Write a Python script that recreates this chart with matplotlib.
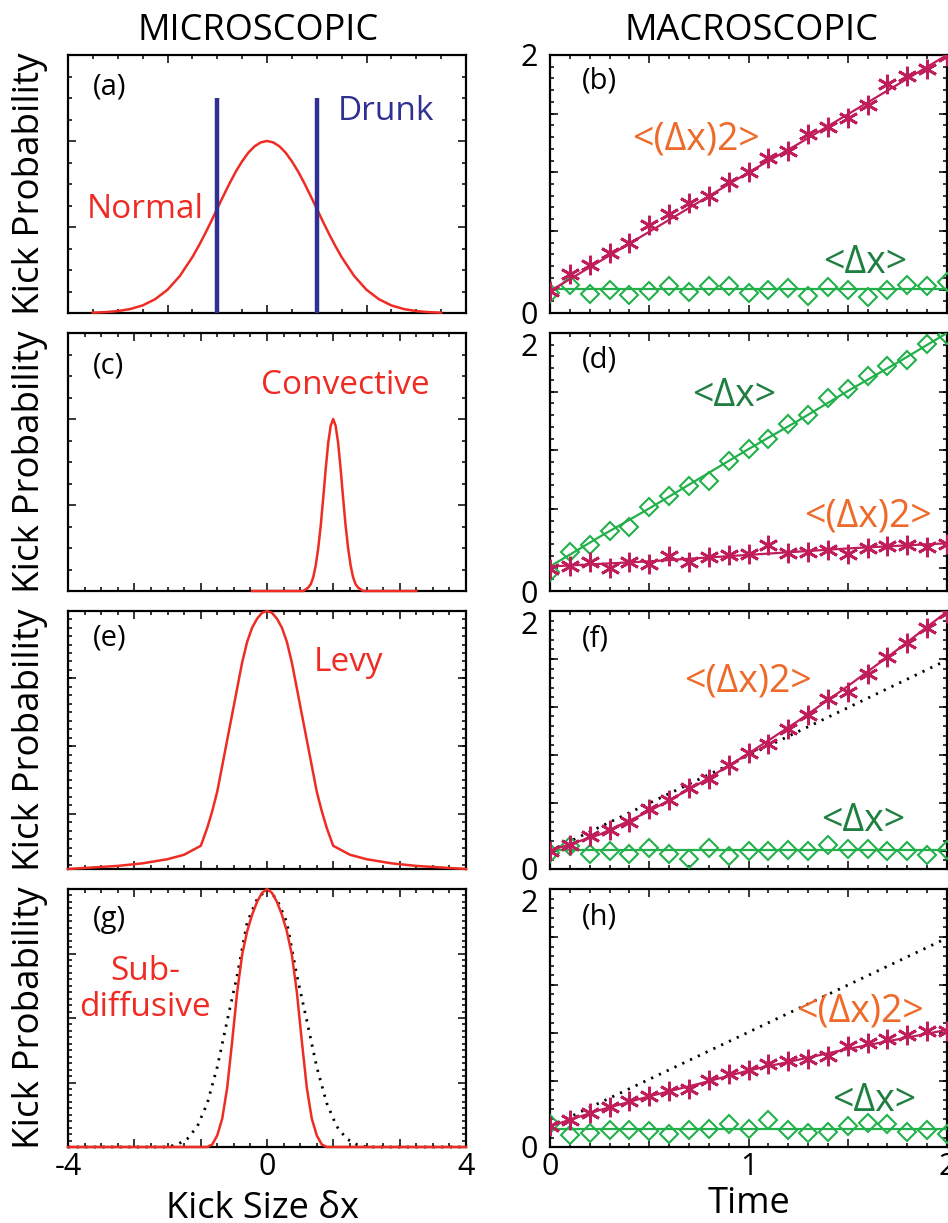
import matplotlib
matplotlib.use("Agg")
import matplotlib.pyplot as plt
import numpy as np
from matplotlib.ticker import FixedLocator, FixedFormatter, MultipleLocator, NullFormatter

plt.rcParams['font.family'] = ['Open Sans', 'DejaVu Sans']

# ---------------- microscopic: kick size distributions ----------------
# (a) normal + drunk
normal_x = [-3.5, -3.25, -3.0, -2.75, -2.5, -2.25, -2.0, -1.75, -1.5, -1.375, -1.25, -1.125, -1.0,
            -0.875, -0.75, -0.625, -0.5, -0.375, -0.25, -0.125, 0.0,
            0.125, 0.25, 0.375, 0.5, 0.625, 0.75, 0.875, 1.0, 1.125, 1.25, 1.375, 1.5,
            1.75, 2.0, 2.25, 2.5, 2.75, 3.0, 3.25, 3.5]
normal_y = [0.002, 0.005, 0.011, 0.023, 0.044, 0.080, 0.135, 0.216, 0.325, 0.389, 0.458, 0.531, 0.607,
            0.682, 0.755, 0.823, 0.882, 0.932, 0.969, 0.992, 1.0,
            0.992, 0.969, 0.932, 0.882, 0.823, 0.755, 0.682, 0.607, 0.531, 0.458, 0.389, 0.325,
            0.216, 0.135, 0.080, 0.044, 0.023, 0.011, 0.005, 0.002]
drunk_x = [-1.0, 1.0]
drunk_h = 1.25

# (c) convective
conv_x = [-0.30, 0.73, 0.78, 0.83, 0.88, 0.93, 0.98, 1.03, 1.08, 1.13, 1.18, 1.23, 1.28, 1.33,
          1.38, 1.43, 1.48, 1.53, 1.58, 1.63, 1.68, 1.73, 1.78, 1.83, 1.88, 1.93, 3.00]
conv_y = [0, 0, 0.01, 0.02, 0.04, 0.08, 0.15, 0.25, 0.38, 0.54, 0.71, 0.86, 0.96, 1.0,
          0.96, 0.86, 0.71, 0.54, 0.38, 0.25, 0.15, 0.08, 0.04, 0.02, 0.01, 0, 0]

# (e) levy
levy_x = [-4.0, -3.5, -3.0, -2.5, -2.0, -1.67, -1.33, -1.2, -1.1, -1.0, -0.9, -0.8, -0.7, -0.6, -0.5,
          -0.4, -0.3, -0.2, -0.1, 0.0, 0.1, 0.2, 0.3, 0.4, 0.5, 0.6, 0.7, 0.8, 0.9, 1.0, 1.1, 1.2,
          1.33, 1.67, 2.0, 2.5, 3.0, 3.5, 4.0]
levy_y = [0.0, 0.006, 0.012, 0.022, 0.038, 0.055, 0.09, 0.16, 0.225, 0.30, 0.40, 0.50, 0.60, 0.70, 0.80,
          0.88, 0.935, 0.97, 0.993, 1.0, 0.993, 0.97, 0.935, 0.88, 0.80, 0.70, 0.60, 0.50, 0.40, 0.30,
          0.225, 0.16, 0.09, 0.055, 0.038, 0.022, 0.012, 0.006, 0.0]

# (g) sub-diffusive + reference normal (dotted)
sub_x = [-4.0, -1.2, -1.1, -1.0, -0.9, -0.8, -0.7, -0.6, -0.5, -0.4, -0.3, -0.2, -0.1, 0.0,
         0.1, 0.2, 0.3, 0.4, 0.5, 0.6, 0.7, 0.8, 0.9, 1.0, 1.1, 1.2, 4.0]
sub_y = [0, 0, 0.01, 0.045, 0.11, 0.23, 0.41, 0.60, 0.745, 0.835, 0.90, 0.95, 0.985, 1.0,
         0.985, 0.95, 0.90, 0.835, 0.745, 0.60, 0.41, 0.23, 0.11, 0.045, 0.01, 0, 0]
ref_x = [-4.0, -2.0, -1.8, -1.6, -1.4, -1.2, -1.0, -0.8, -0.6, -0.4, -0.2, 0.0,
         0.2, 0.4, 0.6, 0.8, 1.0, 1.2, 1.4, 1.6, 1.8, 2.0, 4.0]
ref_y = [0, 0, 0.01, 0.032, 0.08, 0.17, 0.31, 0.49, 0.665, 0.87, 0.96, 1.0,
         0.96, 0.87, 0.665, 0.49, 0.31, 0.17, 0.08, 0.032, 0.01, 0, 0]

# ---------------- macroscopic: moments vs time ----------------
time = [0.0, 0.1, 0.2, 0.3, 0.4, 0.5, 0.6, 0.7, 0.8, 0.9, 1.0,
        1.1, 1.2, 1.3, 1.4, 1.5, 1.6, 1.7, 1.8, 1.9, 2.0]
fit_t = [0.0, 0.25, 0.5, 0.75, 1.0, 1.25, 1.5, 1.75, 2.0]
ref_t = [0.0, 2.0]

# (b)
b_sq = [0.168, 0.306, 0.370, 0.466, 0.544, 0.681, 0.764, 0.850, 0.907, 1.016, 1.093,
        1.205, 1.256, 1.386, 1.438, 1.510, 1.611, 1.775, 1.839, 1.891, 1.995]
b_mean = [0.155, 0.220, 0.150, 0.176, 0.142, 0.168, 0.207, 0.161, 0.207, 0.207, 0.155,
          0.176, 0.194, 0.135, 0.202, 0.181, 0.122, 0.176, 0.215, 0.207, 0.238]
b_sq_fit = [0.17, 0.40, 0.63, 0.86, 1.09, 1.31, 1.54, 1.77, 2.0]
b_mean_fit = [0.187, 0.187, 0.187, 0.187, 0.187, 0.187, 0.187, 0.187, 0.187]

# (d)
d_sq = [0.170, 0.195, 0.226, 0.180, 0.221, 0.206, 0.272, 0.226, 0.265, 0.278, 0.290,
        0.355, 0.296, 0.303, 0.316, 0.290, 0.334, 0.350, 0.355, 0.342, 0.368]
d_mean = [0.149, 0.303, 0.360, 0.463, 0.496, 0.650, 0.735, 0.812, 0.856, 1.005, 1.100,
          1.177, 1.293, 1.362, 1.499, 1.563, 1.666, 1.748, 1.787, 1.915, 1.987]
d_sq_fit = [0.19, 0.21, 0.23, 0.255, 0.28, 0.305, 0.33, 0.35, 0.37]
d_mean_fit = [0.19, 0.42, 0.64, 0.87, 1.10, 1.32, 1.55, 1.77, 2.0]

# (f)
f_sq = [0.137, 0.188, 0.253, 0.305, 0.361, 0.465, 0.537, 0.627, 0.697, 0.808, 0.898,
        0.970, 1.086, 1.195, 1.316, 1.375, 1.512, 1.641, 1.750, 1.871, 1.987]
f_mean = [0.124, 0.175, 0.119, 0.137, 0.119, 0.163, 0.116, 0.077, 0.163, 0.103, 0.137,
          0.137, 0.145, 0.137, 0.183, 0.155, 0.155, 0.137, 0.137, 0.111, 0.145]
f_sq_fit = [0.142, 0.267, 0.448, 0.66, 0.895, 1.148, 1.417, 1.70, 1.995]
f_mean_fit = [0.145, 0.145, 0.145, 0.145, 0.145, 0.145, 0.145, 0.145, 0.145]
f_ref = [0.14, 1.62]

# (h)
h_sq = [0.160, 0.212, 0.266, 0.310, 0.357, 0.396, 0.435, 0.453, 0.517, 0.564, 0.595,
        0.642, 0.668, 0.686, 0.704, 0.781, 0.810, 0.841, 0.867, 0.900, 0.898]
h_mean = [0.181, 0.091, 0.109, 0.135, 0.129, 0.124, 0.098, 0.129, 0.142, 0.181, 0.142,
          0.207, 0.135, 0.109, 0.116, 0.160, 0.186, 0.176, 0.116, 0.129, 0.103]
h_sq_fit = [0.161, 0.286, 0.393, 0.49, 0.593, 0.676, 0.76, 0.834, 0.908]
h_mean_fit = [0.142, 0.142, 0.142, 0.142, 0.142, 0.142, 0.142, 0.142, 0.142]
h_ref = [0.16, 1.62]

# ---------------- style ----------------
RED = '#EE2C24'
BLUE = '#2E3192'
MAG = '#C01D5B'
GRN = '#22B04B'
ORANGE = '#EE6A2A'
DKGRN = '#1E7F41'
DOTS = dict(color='black', lw=2.0, ls=(0, (0.8, 2.3)))

W, H = 948, 1223
fig = plt.figure(figsize=(W / 100, H / 100), dpi=100)

rows_bottom = [313, 591, 869, 1147]
ax_h = 258


def make_ax(left_px, bottom_px, width_px):
    return fig.add_axes([left_px / W, 1 - bottom_px / H, width_px / W, ax_h / H])


def frame(ax):
    for s in ax.spines.values():
        s.set_linewidth(1.6)
    ax.tick_params(which='both', direction='in', top=True, right=True, width=1.1, colors='black')
    ax.tick_params(which='major', length=6, labelsize=22)
    ax.tick_params(which='minor', length=3)


left_axes = [make_ax(68, b, 398) for b in rows_bottom]
right_axes = [make_ax(550, b, 397) for b in rows_bottom]

# left column
for i, ax in enumerate(left_axes):
    frame(ax)
    ax.set_xlim(-4, 4)
    ax.yaxis.set_major_formatter(NullFormatter())
    if i == 0:
        ax.xaxis.set_major_locator(FixedLocator([-4, -2, 0, 2, 4]))
        ax.xaxis.set_minor_locator(MultipleLocator(0.5))
    else:
        ax.xaxis.set_major_locator(FixedLocator(np.linspace(-4, 4, 7)))
        ax.xaxis.set_minor_locator(FixedLocator(np.linspace(-4, 4, 25)))
    if i < 3:
        ax.xaxis.set_major_formatter(NullFormatter())

axa, axc, axe, axg = left_axes
curve = dict(color=RED, lw=1.8, clip_on=False, zorder=3)

axa.set_ylim(0, 1.5)
axa.yaxis.set_major_locator(MultipleLocator(0.5))
axa.yaxis.set_minor_locator(MultipleLocator(0.125))
axa.plot(normal_x, normal_y, **curve)
axa.vlines(drunk_x, 0, drunk_h, color=BLUE, lw=3.2, zorder=3)
axa.text(0.193, 0.40, 'Normal', color=RED, fontsize=24, ha='center', va='center', transform=axa.transAxes)
axa.text(0.80, 0.78, 'Drunk', color=BLUE, fontsize=24, ha='center', va='center', transform=axa.transAxes)

axc.set_ylim(0, 1.5)
axc.yaxis.set_major_locator(MultipleLocator(0.5))
axc.yaxis.set_minor_locator(MultipleLocator(0.125))
axc.plot(conv_x, conv_y, **curve)
axc.text(0.698, 0.795, 'Convective', color=RED, fontsize=24, ha='center', va='center', transform=axc.transAxes)

axe.set_ylim(0, 1.0)
axe.yaxis.set_major_locator(FixedLocator([0.214, 0.477, 0.739]))
axe.yaxis.set_minor_locator(FixedLocator(np.arange(0.214 - 6 * 0.0328, 1.0, 0.0328)))
axe.plot(levy_x, levy_y, **curve)
axe.text(0.704, 0.80, 'Levy', color=RED, fontsize=24, ha='center', va='center', transform=axe.transAxes)

axg.set_ylim(0, 1.0)
axg.yaxis.set_major_locator(MultipleLocator(0.25))
axg.yaxis.set_minor_locator(MultipleLocator(0.025))
axg.plot(ref_x, ref_y, clip_on=False, zorder=3, **DOTS)
axg.plot(sub_x, sub_y, **curve)
axg.text(0.193, 0.61, 'Sub-\ndiffusive', color=RED, fontsize=24, ha='center', va='center',
         linespacing=1.15, transform=axg.transAxes)
axg.xaxis.set_major_formatter(FixedFormatter(['-4', '', '', '0', '', '', '4']))

for ax, lab, y in zip(left_axes, ['(a)', '(c)', '(e)', '(g)'], [0.876, 0.872, 0.895, 0.88]):
    ax.text(0.063, y, lab, fontsize=21, ha='left', va='center', transform=ax.transAxes)

# right column
major_a = [0.0, 0.182, 0.636, 1.091, 1.545, 2.0]
minor_a = np.arange(0.0, 2.0, 0.0909)
major_b = [0.0, 0.142, 0.514, 0.886, 1.258, 1.629, 2.0]
minor_b = np.arange(0.068, 2.0, 0.0743)

for i, ax in enumerate(right_axes):
    frame(ax)
    ax.set_xlim(0, 2)
    ax.set_ylim(0, 2)
    ax.xaxis.set_major_locator(FixedLocator([0, 0.5, 1.0, 1.5, 2.0]))
    ax.xaxis.set_minor_locator(FixedLocator(np.linspace(0, 2, 21)))
    if i < 2:
        yt, ym = major_a, minor_a
    else:
        yt, ym = major_b, minor_b
    ax.yaxis.set_major_locator(FixedLocator(yt))
    ax.yaxis.set_minor_locator(FixedLocator(ym))
    ax.yaxis.set_major_formatter(FixedFormatter(['0'] + [''] * (len(yt) - 2) + ['2']))
    ax.tick_params(axis='y', which='major', pad=9)
    if i > 0:
        ax.yaxis.get_major_ticks()[-1].label1.set_verticalalignment('top')
    if i < 3:
        ax.xaxis.set_major_formatter(NullFormatter())
    else:
        ax.xaxis.set_major_formatter(FixedFormatter(['0', '', '1', '', '2']))

star = dict(marker=(6, 2, 0), ms=14, mew=2.0, color=MAG, ls='none', zorder=4)
diam = dict(marker='D', ms=9, mew=1.5, mfc='none', mec=GRN, ls='none', zorder=3)


def moments(ax, sq, mean, sq_fit, mean_fit):
    ax.plot(fit_t, mean_fit, color=GRN, lw=1.6, zorder=3)
    ax.plot(time, mean, **diam)
    ax.plot(fit_t, sq_fit, color=MAG, lw=1.6, zorder=4)
    ax.plot(time, sq, **star)


axb, axd, axf, axh = right_axes
moments(axb, b_sq, b_mean, b_sq_fit, b_mean_fit)
moments(axd, d_sq, d_mean, d_sq_fit, d_mean_fit)
axf.plot(ref_t, f_ref, **DOTS)
moments(axf, f_sq, f_mean, f_sq_fit, f_mean_fit)
axh.plot(ref_t, h_ref, **DOTS)
moments(axh, h_sq, h_mean, h_sq_fit, h_mean_fit)

SQ = '<(\u0394x)2>'
MN = '<\u0394x>'
for ax, (sx, sy), (mx, my) in [(axb, (0.367, 0.673), (0.794, 0.195)),
                               (axd, (0.80, 0.288), (0.465, 0.754)),
                               (axf, (0.50, 0.725), (0.789, 0.186)),
                               (axh, (0.781, 0.527), (0.817, 0.178))]:
    ax.text(sx, sy, SQ, color=ORANGE, fontsize=27, ha='center', va='center', transform=ax.transAxes)
    ax.text(mx, my, MN, color=DKGRN, fontsize=27, ha='center', va='center', transform=ax.transAxes)

for ax, lab, y in zip(right_axes, ['(b)', '(d)', '(f)', '(h)'], [0.898, 0.896, 0.89, 0.89]):
    ax.text(0.08, y, lab, fontsize=21, ha='left', va='center', transform=ax.transAxes)

# titles and axis labels
fig.text(258 / W, 1 - 40 / H, 'MICROSCOPIC', fontsize=26, ha='center', va='baseline')
fig.text(752 / W, 1 - 40 / H, 'MACROSCOPIC', fontsize=26, ha='center', va='baseline')
for b in rows_bottom:
    fig.text(30 / W, 1 - (b - ax_h / 2) / H, 'Kick Probability', fontsize=26.5,
             rotation=90, ha='center', va='center')
fig.text(262 / W, 1 - 1218 / H, 'Kick Size \u03b4x', fontsize=26, ha='center', va='baseline')
fig.text(749 / W, 1 - 1213 / H, 'Time', fontsize=26, ha='center', va='baseline')

fig.savefig('out.png', dpi=100)
